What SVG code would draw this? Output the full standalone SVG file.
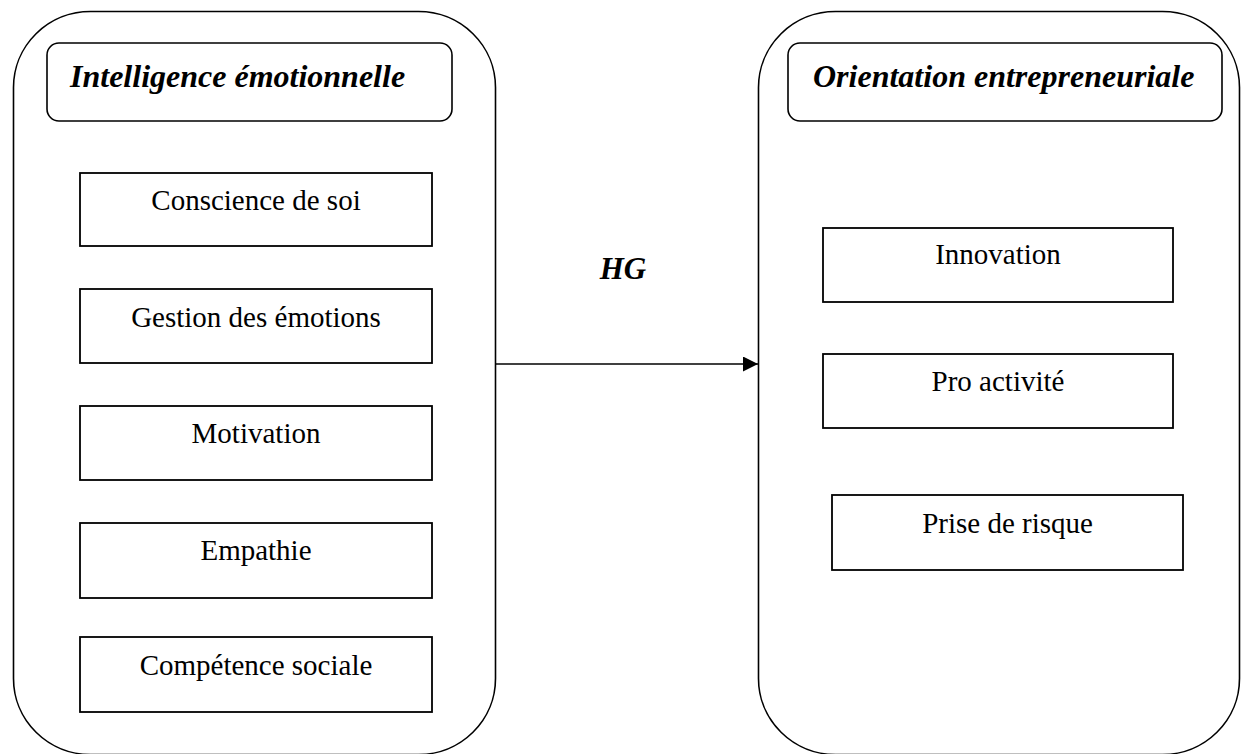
<svg xmlns="http://www.w3.org/2000/svg" width="1241" height="754" viewBox="0 0 1241 754">
  <defs>
    <style>
      .container { fill: none; stroke: #000; stroke-width: 1.6; }
      .header { fill: none; stroke: #000; stroke-width: 1.6; }
      .box { fill: #fff; stroke: #000; stroke-width: 1.8; }
      .title { font-family: "Liberation Serif", "Times New Roman", serif; font-size: 32px; font-weight: bold; font-style: italic; fill: #000; }
      .hg { font-family: "Liberation Serif", "Times New Roman", serif; font-size: 31px; font-weight: bold; font-style: italic; fill: #000; text-anchor: middle; }
      .label { font-family: "Liberation Serif", "Times New Roman", serif; font-size: 29px; fill: #000; text-anchor: middle; }
      .conn { stroke: #000; stroke-width: 1.6; fill: none; }
    </style>
    <marker id="arrow" markerWidth="16" markerHeight="16" refX="15" refY="7.5" orient="auto" markerUnits="userSpaceOnUse">
      <path d="M0,0 L15,7.5 L0,15 Z" fill="#000"/>
    </marker>
  </defs>
  <rect width="1241" height="754" fill="#fff"/>

  <g id="intelligence-emotionnelle">
    <rect class="container" x="13.5" y="11.5" width="482" height="743" rx="77" ry="76"/>
    <rect class="header" x="47" y="43" width="405" height="78" rx="12" ry="12"/>
    <text class="title" x="70" y="87">Intelligence émotionnelle</text>
  </g>
  <g id="conscience-de-soi">
    <rect class="box" x="80" y="173" width="352" height="73"/>
    <text class="label" x="256" y="210">Conscience de soi</text>
  </g>
  <g id="gestion-des-emotions">
    <rect class="box" x="80" y="289" width="352" height="74"/>
    <text class="label" x="256" y="327">Gestion des émotions</text>
  </g>
  <g id="motivation">
    <rect class="box" x="80" y="406" width="352" height="74"/>
    <text class="label" x="256" y="443">Motivation</text>
  </g>
  <g id="empathie">
    <rect class="box" x="80" y="523" width="352" height="75"/>
    <text class="label" x="256" y="560">Empathie</text>
  </g>
  <g id="competence-sociale">
    <rect class="box" x="80" y="637" width="352" height="75"/>
    <text class="label" x="256" y="675">Compétence sociale</text>
  </g>

  <g id="orientation-entrepreneuriale">
    <rect class="container" x="758.5" y="11.5" width="481" height="743" rx="77" ry="76"/>
    <rect class="header" x="788" y="43" width="434" height="78" rx="12" ry="12"/>
    <text class="title" x="813" y="87">Orientation entrepreneuriale</text>
  </g>
  <g id="innovation">
    <rect class="box" x="823" y="228" width="350" height="74"/>
    <text class="label" x="998" y="264">Innovation</text>
  </g>
  <g id="pro-activite">
    <rect class="box" x="823" y="354" width="350" height="74"/>
    <text class="label" x="998" y="391">Pro activité</text>
  </g>
  <g id="prise-de-risque">
    <rect class="box" x="832" y="495" width="351" height="75"/>
    <text class="label" x="1007.5" y="533">Prise de risque</text>
  </g>

  <g id="connectors">
    <line class="conn" x1="495.5" y1="364" x2="758" y2="364" marker-end="url(#arrow)"/>
    <text class="hg" x="623" y="279">HG</text>
  </g>
</svg>
